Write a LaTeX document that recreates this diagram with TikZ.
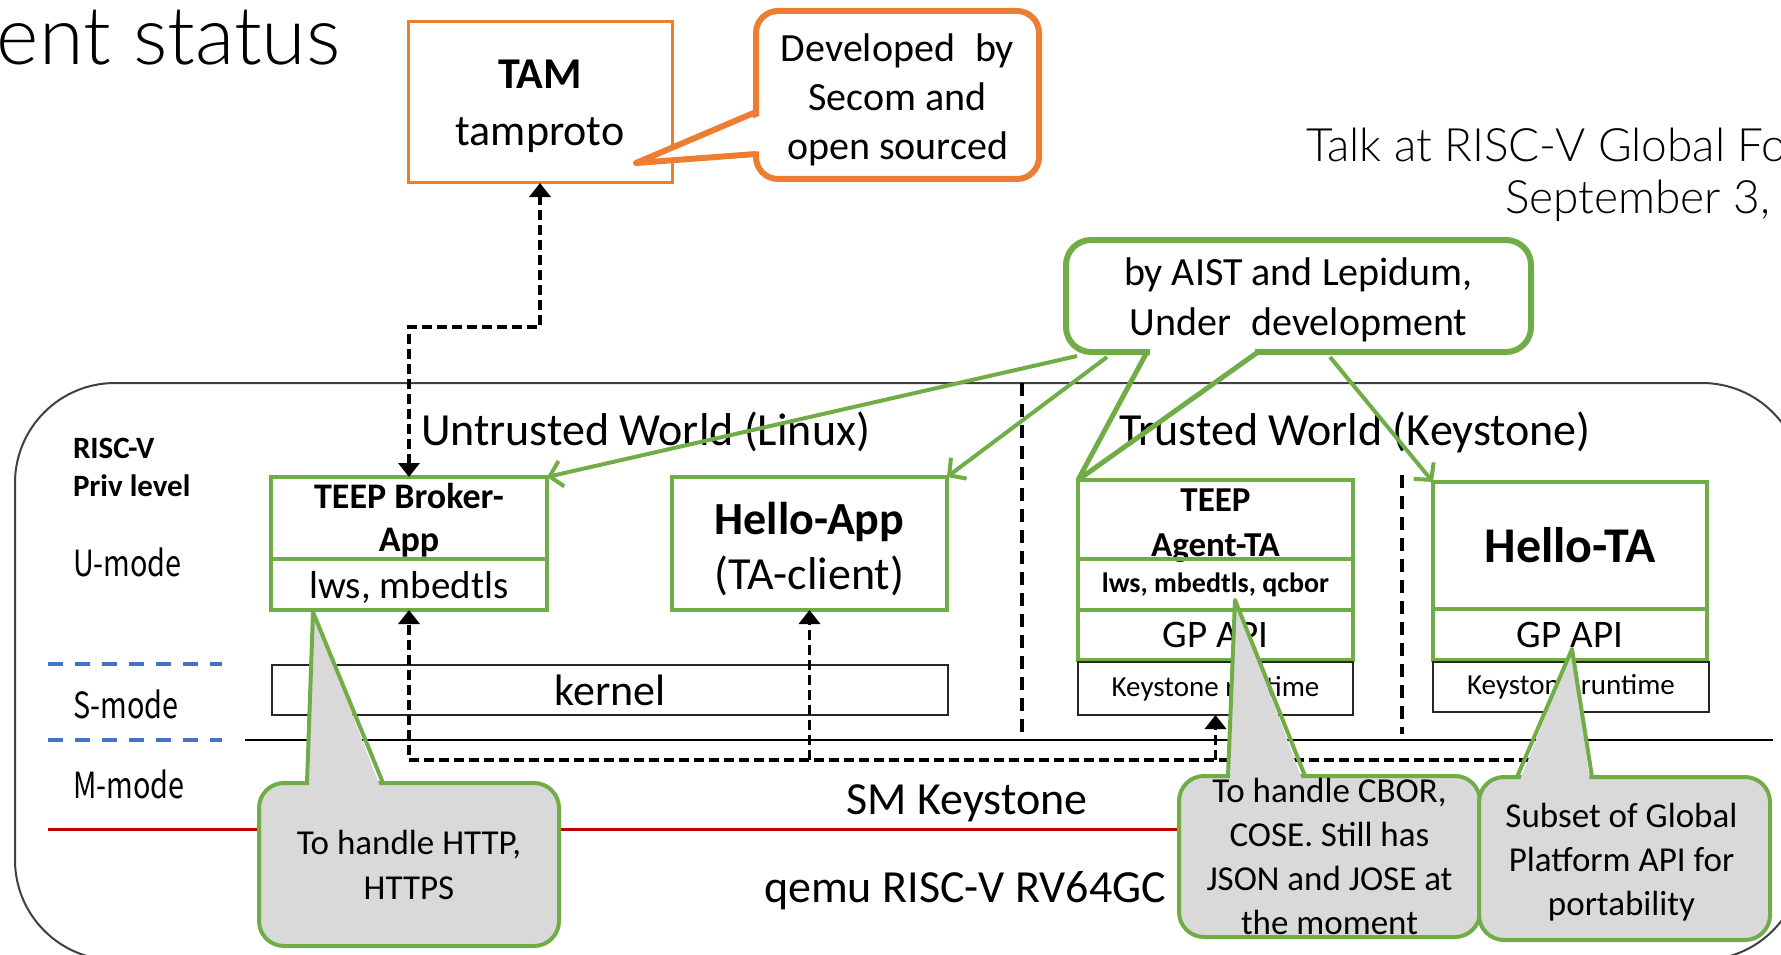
\documentclass[tikz,border=0pt]{standalone}
\usepackage{fontspec}
\setmainfont{Carlito}
\newfontfamily\jpfont[UprightFont={* Light}]{Lato}
\newfontfamily\modefont[FakeStretch=0.8]{Noto Sans CJK JP}
\usetikzlibrary{arrows.meta,calc}
\definecolor{gcol}{HTML}{70AD47}
\definecolor{ocol}{HTML}{ED7D31}
\definecolor{bcol}{HTML}{4472C4}
\definecolor{rcol}{HTML}{C00000}
\definecolor{gfill}{HTML}{D9D9D9}
\definecolor{fcol}{HTML}{404040}
\tikzset{
 fs/.style 2 args={font=\fontsize{#1}{#2}\selectfont},
 bfs/.style 2 args={font=\fontsize{#1}{#2}\selectfont\bfseries},
 jfs/.style 2 args={font=\jpfont\fontsize{#1}{#2}\selectfont},
 mfs/.style 2 args={font=\modefont\fontsize{#1}{#2}\selectfont},
 lbl/.style={inner sep=0pt, outer sep=0pt, align=center},
 gbox/.style={draw=gcol, line width=4pt, inner sep=0pt, outer sep=0pt, anchor=north west, align=center},
 kbox/.style={draw=black!85, line width=2pt, inner sep=0pt, outer sep=0pt, anchor=north west, align=center},
 obox/.style={draw=ocol, line width=3pt, inner sep=0pt, outer sep=0pt, anchor=north west, align=center},
 ocall/.style={draw=ocol, line width=6pt, fill=white, rounded corners=22pt, inner sep=0pt, outer sep=0pt, anchor=north west},
 gcall/.style={draw=gcol, line width=6pt, fill=white, rounded corners=25pt, inner sep=0pt, outer sep=0pt, anchor=north west},
 grcall/.style={draw=gcol, line width=4pt, fill=gfill, rounded corners=25pt, inner sep=0pt, outer sep=0pt, anchor=north west},
 dasharr/.style={draw=black, line width=3.5pt, dash pattern=on 10pt off 5pt, -{Triangle[length=14pt,width=21pt]}},
 garr/.style={draw=gcol, line width=4pt, -{Straight Barb[length=12pt,width=26pt]}},
 sepline/.style={draw=black, line width=3.5pt, dash pattern=on 13pt off 8pt},
 modeline/.style={draw=bcol, line width=3.5pt, dash pattern=on 15pt off 12pt},
 ptr/.style={line join=round},
}
\begin{document}
\begin{tikzpicture}[x=1pt,y=-1pt]
\useasboundingbox (0,0) rectangle (1781,955);
\clip (0,0) rectangle (1781,955);
% frame and level lines
\draw[fcol, line width=2pt, rounded corners=100pt] (15,383) rectangle (1802,960);
\draw[modeline] (48,664) -- (222,664);
\draw[modeline] (48,740) -- (222,740);
\draw[black, line width=2pt] (245,740) -- (1773,740);
\draw[rcol, line width=3pt] (48,829) -- (1500,829);
\draw[sepline] (1022,383) -- (1022,740);
\draw[sepline] (1402,475) -- (1402,734);
% labels
\node[lbl, jfs={81}{97}, anchor=base west] (title) at (-3,65) {ent status};
\node[lbl, jfs={46}{55}, anchor=base west] (talk1) at (1306,162) {Talk at RISC-V Global Fo};
\node[lbl, jfs={46}{55}, anchor=base west] (talk2) at (1505,213) {September 3, 2};
\node[lbl, bfs={31}{37}, anchor=west] (riscv) at (73,448) {RISC-V};
\node[lbl, bfs={31}{37}, anchor=west] (priv) at (73,486) {Priv level};
\node[lbl, mfs={36}{43}, anchor=west] (umode) at (73,562) {U-mode};
\node[lbl, mfs={36}{43}, anchor=west] (smode) at (73,704) {S-mode};
\node[lbl, mfs={36}{43}, anchor=west] (mmode) at (73,784) {M-mode};
\node[lbl, fs={46}{55}, anchor=base west] (untrusted) at (421,445) {Untrusted World (Linux)};
\node[lbl, fs={46}{55}, anchor=base west] (trusted) at (1119,445) {Trusted World (Keystone)};
\node[lbl, fs={46}{55}, anchor=base] (sm) at (967,814) {SM Keystone};
\node[lbl, fs={46}{55}, anchor=base] (qemu) at (965,902) {qemu RISC-V RV64GC};
% boxes
\node[obox, fs={44}{57}, minimum width=264pt, minimum height=161pt, text depth=0pt] (tam) at (408,22) {\textbf{TAM}\\tamproto\rule[-18pt]{0pt}{1pt}};
\node[gbox, minimum width=276pt, minimum height=82pt] (brokertop) at (271,477) {};
\node[lbl, bfs={36}{43}] (brokertoptext) at ($(brokertop.center)+(0,2)$) {TEEP Broker-\\App};
\node[gbox, minimum width=276pt, minimum height=51pt] (brokerlib) at (271,559) {};
\node[lbl, fs={39}{47}] (brokerlibtext) at ($(brokerlib.center)+(0,3)$) {lws, mbedtls};
\node[gbox, minimum width=275pt, minimum height=133pt] (helloapp) at (672,477) {};
\node[lbl, fs={46}{55}] (helloapptext) at ($(helloapp.center)+(0,6)$) {\textbf{Hello-App}\\(TA-client)};
\node[kbox, fs={44}{53}, minimum width=676pt, minimum height=50pt] (kernel) at (272,665) {kernel};
\node[gbox, minimum width=275pt, minimum height=79pt] (agenttop) at (1078,480) {};
\node[lbl, bfs={35}{45}] (agenttoptext) at ($(agenttop.center)+(0,6)$) {TEEP\\Agent-TA};
\node[gbox, bfs={28}{34}, minimum width=275pt, minimum height=51pt] (agentlib) at (1078,559) {lws, mbedtls, qcbor};
\node[gbox, fs={39}{47}, minimum width=275pt, minimum height=50pt] (agentgp) at (1078,610) {GP API};
\node[kbox, fs={29}{35}, minimum width=275pt, minimum height=53pt] (agentrt) at (1078,662) {Keystone runtime};
\node[gbox, bfs={50}{60}, minimum width=274pt, minimum height=127pt] (htatop) at (1433,482) {Hello-TA};
\node[gbox, fs={39}{47}, minimum width=274pt, minimum height=51pt] (htagp) at (1433,609) {GP API};
\node[kbox, fs={29}{35}, minimum width=276pt, minimum height=50pt] (htart) at (1433,662) {Keystone runtime};
% dashed arrows
\coordinate (dashy) at (0,760);
\draw[dasharr] (htart.south) -- (htart.south |- dashy) -- (brokerlib.south |- dashy) -- (brokerlib.south);
\draw[dasharr] (helloapp.south |- dashy) -- (helloapp.south);
\draw[dasharr] (agentrt.south |- dashy) -- (agentrt.south);
\draw[dasharr, {Triangle[length=14pt,width=21pt]}-{Triangle[length=14pt,width=21pt]}] (brokertop.north) -- ++(0,-150) -| (tam.south);
% orange callout
\node[ocall, minimum width=283pt, minimum height=168pt] (dev) at (756,11) {};
\fill[white] (762,115) -- (636,163) -- (762,151) -- cycle;
\draw[ocol, line width=6pt, ptr] (756,112) -- (636,163) -- (756,154);
\node[lbl, fs={40}{49}] (devtext) at ($(dev.center)+(0,5)$) {Developed\hspace{0.5em}by\\Secom and\\open sourced};
% green callout
\node[gcall, minimum width=465pt, minimum height=112pt] (aist) at (1066,240) {};
\fill[white] ($(aist.south west)+(84,-5)$) rectangle ($(aist.south west)+(189,5)$);
\draw[gcol, line width=5pt, ptr] ($(aist.south west)+(81,0)$) -- (agenttop.north west) -- ($(aist.south west)+(192,0)$);
\node[lbl, fs={40}{50}] (aisttext) at ($(aist.center)+(0,4)$) {by AIST and Lepidum,\\Under\hspace{0.5em}development};
\coordinate (s1) at ($(aist.south west)+(11,4)$);
\coordinate (s2) at ($(aist.south west)+(41,5)$);
\coordinate (s3) at ($(aist.south west)+(264,5)$);
\draw[garr] (s1) -- (brokertop.north east);
\draw[garr] (s2) -- (helloapp.north east);
\draw[garr] (s3) -- (htatop.north west);
% grey callouts
\node[grcall, minimum width=300pt, minimum height=163pt] (http) at (259,783) {};
\coordinate (httptip) at (313,612);
\fill[gfill] (309,789) -- (httptip) -- (381,789) -- cycle;
\draw[gcol, line width=4pt, ptr] (307,783) -- (httptip) -- (383,783);
\node[lbl, fs={35}{45}] (httptext) at (http.center) {To handle HTTP,\\HTTPS};
\node[grcall, minimum width=301pt, minimum height=161pt] (cbor) at (1179,776) {};
\coordinate (cbortip) at (1235,600);
\fill[gfill] (1230,782) -- (cbortip) -- (1303,782) -- cycle;
\draw[gcol, line width=4pt, ptr] (1228,776) -- (cbortip) -- (1305,776);
\node[lbl, fs={35}{44}] (cbortext) at (cbor.center) {To handle CBOR,\\COSE. Still has\\JSON and JOSE at\\the moment};
\node[grcall, minimum width=291pt, minimum height=163pt] (subset) at (1479,777) {};
\coordinate (subtip) at (1572,649);
\fill[gfill] (1519,783) -- (subtip) -- (1590,783) -- cycle;
\draw[gcol, line width=4pt, ptr] (1517,777) -- (subtip) -- (1592,777);
\node[lbl, fs={35}{44}] (subsettext) at ($(subset.center)+(-3,4)$) {Subset of Global\\Platform API for\\portability};
\end{tikzpicture}
\end{document}
